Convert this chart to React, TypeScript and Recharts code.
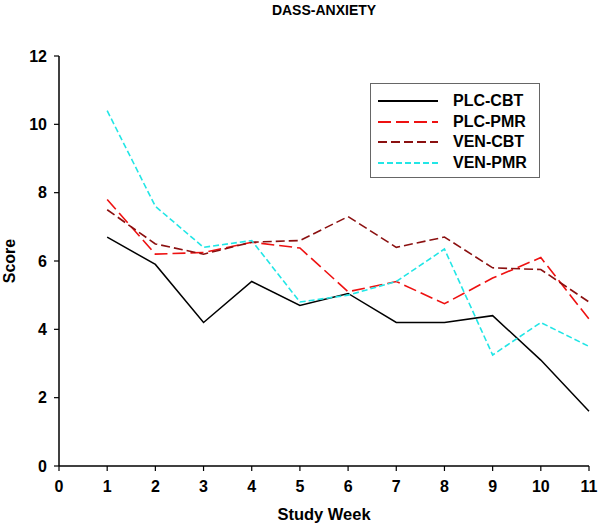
import { CartesianGrid, Legend, Line, LineChart, XAxis, YAxis } from "recharts";

const weeks = [1, 2, 3, 4, 5, 6, 7, 8, 9, 10, 11];
const plcCbt = [6.7, 5.9, 4.2, 5.4, 4.7, 5.05, 4.2, 4.2, 4.4, 3.1, 1.6];
const plcPmr = [7.8, 6.2, 6.25, 6.55, 6.38, 5.1, 5.4, 4.75, 5.5, 6.1, 4.3];
const venCbt = [7.5, 6.5, 6.2, 6.55, 6.6, 7.3, 6.4, 6.7, 5.8, 5.75, 4.8];
const venPmr = [10.4, 7.6, 6.4, 6.6, 4.8, 5.0, 5.4, 6.35, 3.25, 4.2, 3.5];
const xTicks = [0, 1, 2, 3, 4, 5, 6, 7, 8, 9, 10, 11];
const yTicks = [0, 2, 4, 6, 8, 10, 12];

const data = weeks.map((w, i) => ({
  week: w,
  plcCbt: plcCbt[i],
  plcPmr: plcPmr[i],
  venCbt: venCbt[i],
  venPmr: venPmr[i],
}));

const FONT = '"Liberation Sans", Arial, Helvetica, sans-serif';
const TICK = { fill: "#000", fontSize: 16, fontWeight: 700, fontFamily: FONT };
const AXIS_LINE = { stroke: "#000", strokeWidth: 1.5 };

const SERIES = [
  { key: "plcCbt", name: "PLC-CBT", color: "#000000", dash: undefined as string | undefined, width: 1.5 },
  { key: "plcPmr", name: "PLC-PMR", color: "#ee1111", dash: "13 5", width: 1.6 },
  { key: "venCbt", name: "VEN-CBT", color: "#8b1010", dash: "9 4", width: 1.6 },
  { key: "venPmr", name: "VEN-PMR", color: "#22e6e6", dash: "6 3", width: 1.6 },
];

function LegendBox() {
  return (
    <div
      style={{
        width: 170,
        height: 95,
        border: "1.5px solid #666",
        background: "#fff",
        boxSizing: "border-box",
        paddingTop: 7,
        fontFamily: FONT,
      }}
    >
      {SERIES.map((s) => (
        <div key={s.key} style={{ display: "flex", alignItems: "center", height: 20.6 }}>
          <svg width={68} height={4} style={{ marginLeft: 7 }}>
            <line x1={0} y1={2} x2={60} y2={2} stroke={s.color} strokeWidth={2} strokeDasharray={s.dash} />
          </svg>
          <span style={{ marginLeft: 7, fontSize: 16, fontWeight: 700, color: "#000", lineHeight: "16px" }}>
            {s.name}
          </span>
        </div>
      ))}
    </div>
  );
}

export default function App() {
  return (
    <div style={{ position: "absolute", left: 0, top: 0, width: 601, height: 528, background: "#fff" }}>
      <LineChart width={601} height={528} data={data} margin={{ top: 56, right: 12, bottom: 0, left: 0 }}>
        <CartesianGrid stroke="none" />
        <text x={324} y={15} textAnchor="middle" fontFamily={FONT} fontSize={14} fontWeight={700} fill="#000">
          DASS-ANXIETY
        </text>
        <XAxis
          dataKey="week"
          type="number"
          domain={[0, 11]}
          ticks={xTicks}
          interval={0}
          height={62}
          tickSize={5}
          tickMargin={10}
          axisLine={AXIS_LINE}
          tickLine={{ stroke: "#000", strokeWidth: 1.2 }}
          tick={TICK}
          label={{
            content: ({ viewBox }: any) => (
              <text
                x={viewBox.x + viewBox.width / 2}
                y={520}
                textAnchor="middle"
                fontFamily={FONT}
                fontSize={16.5}
                fontWeight={700}
                fill="#000"
              >
                Study Week
              </text>
            ),
          }}
        />
        <YAxis
          type="number"
          domain={[0, 12]}
          ticks={yTicks}
          interval={0}
          width={59}
          tickSize={5}
          tickMargin={7}
          axisLine={AXIS_LINE}
          tickLine={{ stroke: "#000", strokeWidth: 1.2 }}
          tick={TICK}
          label={{
            content: ({ viewBox }: any) => {
              const cy = viewBox.y + viewBox.height / 2;
              return (
                <text
                  x={15}
                  y={cy}
                  transform={`rotate(-90 15 ${cy})`}
                  textAnchor="middle"
                  fontFamily={FONT}
                  fontSize={16}
                  fontWeight={700}
                  fill="#000"
                >
                  Score
                </text>
              );
            },
          }}
        />
        <Legend
          layout="vertical"
          align="center"
          verticalAlign="middle"
          wrapperStyle={{ top: 83, left: 370, width: 170, height: 95 }}
          content={() => <LegendBox />}
        />
        {SERIES.map((s) => (
          <Line
            key={s.key}
            type="linear"
            dataKey={s.key}
            name={s.name}
            stroke={s.color}
            strokeWidth={s.width}
            strokeDasharray={s.dash}
            dot={false}
            activeDot={false}
            isAnimationActive={false}
          />
        ))}
      </LineChart>
    </div>
  );
}
